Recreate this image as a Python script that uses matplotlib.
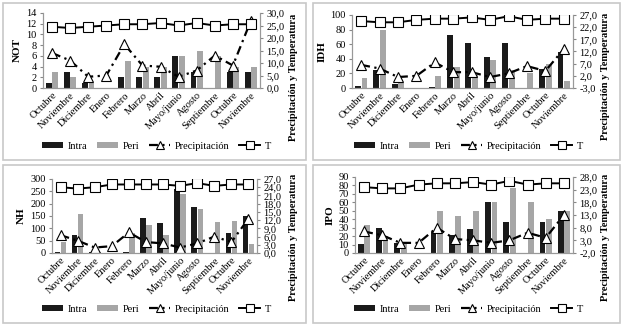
import matplotlib
matplotlib.use("Agg")
import matplotlib.pyplot as plt
from matplotlib.patches import Patch, Rectangle
from matplotlib.lines import Line2D
from matplotlib.ticker import FuncFormatter
import numpy as np

plt.rcParams['font.family'] = ['Liberation Serif', 'DejaVu Serif']
plt.rcParams['font.size'] = 7.5

meses = ['Octubre', 'Noviembre', 'Diciembre', 'Enero', 'Febrero', 'Marzo', 'Abril',
         'Mayo/junio', 'Agosto', 'Septiembre', 'Octubre', 'Noviembre']

# NOT
not_intra = [1, 3, 1, 0, 2, 2, 2, 6, 3, 0, 3, 3]
not_peri = [3, 2, 1, 0, 5, 4, 4, 6, 7, 6, 4, 4]
not_prec = [14, 11, 4.5, 5, 17.5, 9, 8.5, 4.5, 7, 13, 9, 27]
not_temp = [24.5, 24, 24.5, 25, 25.5, 25.5, 26, 25, 26, 25, 25.5, 25.5]

# IDH
idh_intra = [3, 25, 5, 0, 1, 72, 61, 43, 62, 0, 26, 50]
idh_peri = [14, 79, 7, 0, 17, 29, 18, 39, 25, 21, 33, 9]
idh_prec = [6.5, 5, 1.5, 2, 7.5, 3.5, 3.5, 1.5, 3, 6, 4, 13]
idh_temp = [24.5, 24, 24, 25, 25.5, 25.5, 26, 25, 26.5, 25, 25.5, 25.5]

# NH
nh_intra = [3, 75, 3, 0, 3, 143, 122, 258, 187, 0, 80, 150]
nh_peri = [45, 158, 5, 0, 83, 115, 75, 240, 180, 125, 130, 37]
nh_prec = [6.5, 4.5, 2, 2.5, 7.5, 4, 3.5, 2, 3.5, 6, 4, 12.5]
nh_temp = [24, 23.5, 24, 25, 25, 25, 25, 24.5, 25.5, 24.5, 25, 25]

# IPO
ipo_intra = [11, 30, 12, 0, 25, 21, 28, 60, 37, 0, 37, 50]
ipo_peri = [33, 20, 12, 0, 50, 44, 50, 60, 77, 60, 40, 50]
ipo_prec = [6.5, 5, 2, 2, 8, 3.5, 3, 2, 3, 6, 4, 13]
ipo_temp = [24, 23.5, 23.5, 25, 25.5, 25.5, 26, 25, 26.5, 25, 25.5, 25.5]

paneles = [
    ('NOT', not_intra, not_peri, not_prec, not_temp, (0, 14, 2), (0, 30, 5)),
    ('IDH', idh_intra, idh_peri, idh_prec, idh_temp, (0, 100, 20), (-3, 27, 5)),
    ('NH', nh_intra, nh_peri, nh_prec, nh_temp, (0, 300, 50), (0, 27, 3)),
    ('IPO', ipo_intra, ipo_peri, ipo_prec, ipo_temp, (0, 90, 10), (-2, 28, 5)),
]

# posiciones en pixeles: izquierda, derecha, arriba, abajo
pos_px = [(43, 260, 13, 88), (352, 573, 15, 88), (52, 257, 179, 253), (355, 573, 177, 253)]
cajas = [(3, 3, 306, 160), (313, 3, 620, 160), (3, 165, 306, 323), (313, 165, 620, 323)]
etiq_der = [(294, 77), (606, 76), (293, 237), (606, 237)]

W, H = 624, 326
fig = plt.figure(figsize=(W / 100, H / 100), dpi=100)

negro = '#1a1a1a'
gris = '#a6a6a6'
rayapunto = (0, (4, 2, 1, 2))
coma = FuncFormatter(lambda v, p: ('%.1f' % v).replace('.', ','))

for i, (nombre, intra, peri, prec, temp, lims, rlims) in enumerate(paneles):
    l, r, t, b = pos_px[i]
    x0, y0, x1, y1 = cajas[i]
    fig.patches.append(Rectangle((x0 / W, 1 - y1 / H), (x1 - x0) / W, (y1 - y0) / H,
                                 transform=fig.transFigure, fill=False, edgecolor='#c8c8c8', lw=1.2))
    ax = fig.add_axes([l / W, 1 - b / H, (r - l) / W, (b - t) / H])
    x = np.arange(len(meses))
    w = 0.32
    ax.bar(x - w / 2 - 0.02, intra, w, color=negro)
    ax.bar(x + w / 2 + 0.02, peri, w, color=gris)
    ax.set_ylim(lims[0], lims[1])
    ax.set_yticks(np.arange(lims[0], lims[1] + 0.1, lims[2]))
    ax.set_xlim(-0.5, len(meses) - 0.5)
    ax.set_xticks(x)
    ax.set_xticklabels(meses, rotation=45, ha='right', rotation_mode='anchor')
    ax.set_ylabel(nombre, fontweight='bold', fontsize=8, labelpad=3)
    ax.tick_params(axis='x', length=0, pad=2)
    ax.tick_params(axis='y', length=2.5, pad=2, color='#888888')
    ax.spines['top'].set_visible(False)
    for s in ['left', 'right', 'bottom']:
        ax.spines[s].set_color('#999999')
        ax.spines[s].set_linewidth(0.8)

    ax2 = ax.twinx()
    ax2.plot(x, prec, color='black', lw=1.6, ls=rayapunto, marker='^', ms=6.5,
             mfc='white', mec='black', mew=0.8)
    ax2.plot(x, temp, color='black', lw=1.4, marker='s', ms=6.5, mfc='white', mec='black', mew=0.8)
    ax2.set_ylim(rlims[0], rlims[1])
    ax2.set_yticks(np.arange(rlims[0], rlims[1] + 0.1, rlims[2]))
    ax2.yaxis.set_major_formatter(coma)
    ax2.tick_params(axis='y', length=2.5, pad=2, color='#888888')
    ax2.spines['top'].set_visible(False)
    for s in ['left', 'right', 'bottom']:
        ax2.spines[s].set_color('#999999')
        ax2.spines[s].set_linewidth(0.8)

    ex, ey = etiq_der[i]
    fig.text(ex / W, 1 - ey / H, 'Precipitación y Temperatura', rotation=90, fontweight='bold',
             fontsize=7.5, ha='center', va='center')

    handles = [Patch(facecolor=negro), Patch(facecolor=gris),
               Line2D([], [], color='black', lw=1.6, ls=rayapunto, marker='^', ms=6,
                      mfc='white', mec='black', mew=0.8),
               Line2D([], [], color='black', lw=1.4, marker='s', ms=6, mfc='white', mec='black', mew=0.8)]
    ley_y = y1 - 14
    fig.legend(handles, ['Intra', 'Peri', 'Precipitación', 'T'], loc='center',
               bbox_to_anchor=(((x0 + x1) / 2 + 2) / W, 1 - ley_y / H), ncol=4, frameon=False,
               fontsize=7.5, handlelength=2.0, handleheight=0.5, columnspacing=1.0, handletextpad=0.4)

fig.savefig('out.png', dpi=100)
